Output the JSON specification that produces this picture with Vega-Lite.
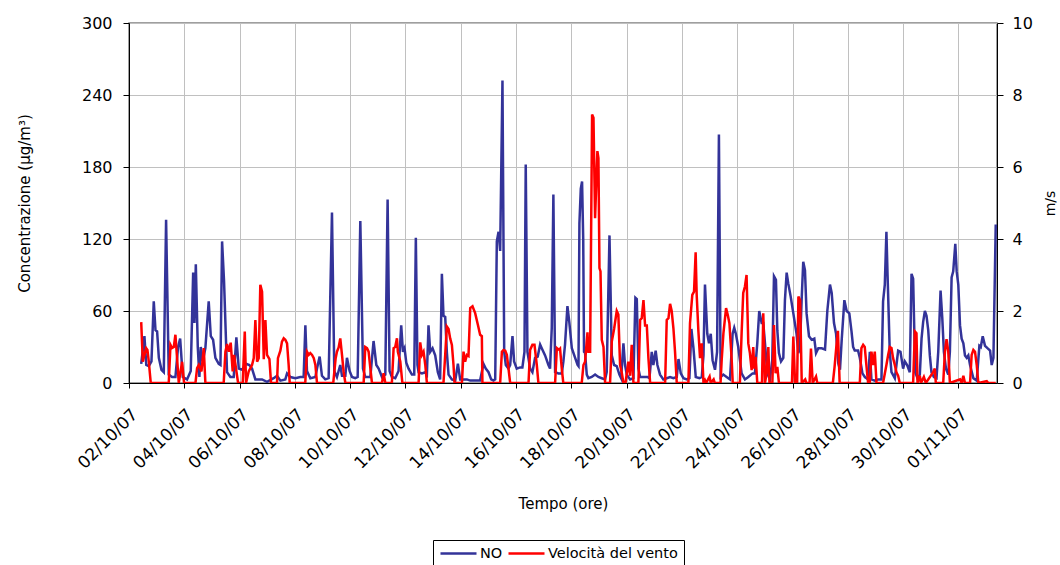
{
"$schema":"https://vega.github.io/schema/vega-lite/v6.json",
"width":868,"height":360,
"autosize":{"type":"none"},
"padding":{"left":129,"top":23,"right":63,"bottom":182},
"background":"white",
"config":{"font":"DejaVu Sans","view":{"stroke":"#808080","strokeWidth":1.5},
"axis":{"domainColor":"black","tickColor":"black","labelColor":"black","titleColor":"black","gridColor":"#c0c0c0","titleFontWeight":"normal","labelFont":"DejaVu Sans","titleFont":"DejaVu Sans"},
"axisX":{"labelFontSize":17},"axisY":{"labelFontSize":16},
"legend":{"labelFontSize":14.5,"labelFont":"DejaVu Sans"}},
"datasets":{
"no":[{"h":10.6,"v":16},{"h":13.4,"v":39},{"h":15,"v":15},{"h":17.2,"v":14},{"h":19.5,"v":18},{"h":21.5,"v":68},{"h":23,"v":44},{"h":24.4,"v":43},{"h":25.9,"v":21},{"h":28.2,"v":11},{"h":30.2,"v":9},{"h":32.2,"v":136},{"h":34.5,"v":7},{"h":37.4,"v":5},{"h":40.3,"v":5},{"h":42.6,"v":30},{"h":44.4,"v":37},{"h":46.7,"v":5},{"h":50.4,"v":3},{"h":53.6,"v":10},{"h":55.7,"v":92},{"h":56.8,"v":50},{"h":58,"v":99},{"h":59.7,"v":30},{"h":61.1,"v":5},{"h":62.3,"v":30},{"h":64,"v":18},{"h":66.3,"v":29},{"h":69.2,"v":68},{"h":71,"v":39},{"h":73,"v":36},{"h":75,"v":21},{"h":77.9,"v":16},{"h":79.4,"v":15},{"h":80.8,"v":118},{"h":82.5,"v":85},{"h":85.1,"v":9},{"h":88,"v":5},{"h":90.9,"v":5},{"h":93.2,"v":38},{"h":95.3,"v":12},{"h":98.2,"v":11},{"h":101.6,"v":16},{"h":104.5,"v":15},{"h":106.8,"v":12},{"h":109.7,"v":3},{"h":115.5,"v":3},{"h":119.8,"v":1},{"h":125.6,"v":4},{"h":128.5,"v":6},{"h":131.4,"v":2},{"h":135.7,"v":3},{"h":137.2,"v":8},{"h":140.1,"v":5},{"h":144.4,"v":4},{"h":148.7,"v":5},{"h":151.6,"v":5},{"h":153.1,"v":48},{"h":154.5,"v":10},{"h":157.4,"v":4},{"h":161.8,"v":5},{"h":163.2,"v":12},{"h":165.5,"v":22},{"h":167.5,"v":6},{"h":170.4,"v":3},{"h":173.3,"v":4},{"h":176.2,"v":142},{"h":178.2,"v":10},{"h":180.5,"v":5},{"h":183.4,"v":15},{"h":184.9,"v":6},{"h":187.8,"v":6},{"h":189.2,"v":21},{"h":191.5,"v":10},{"h":193.6,"v":5},{"h":196.4,"v":4},{"h":198.5,"v":5},{"h":200.8,"v":135},{"h":203.1,"v":12},{"h":205.1,"v":5},{"h":209.5,"v":5},{"h":212.3,"v":35},{"h":214.7,"v":15},{"h":216.7,"v":12},{"h":219.6,"v":5},{"h":222.5,"v":7},{"h":224.5,"v":153},{"h":226.2,"v":10},{"h":228.2,"v":5},{"h":231.1,"v":4},{"h":234,"v":10},{"h":236.3,"v":48},{"h":237.8,"v":26},{"h":239.2,"v":29},{"h":240.7,"v":17},{"h":242.7,"v":12},{"h":245.6,"v":7},{"h":247.6,"v":7},{"h":249,"v":121},{"h":250.4,"v":15},{"h":251.4,"v":9},{"h":254.3,"v":8},{"h":257.2,"v":9},{"h":258.6,"v":7},{"h":260,"v":48},{"h":261.5,"v":26},{"h":263.5,"v":29},{"h":265.8,"v":23},{"h":268.1,"v":9},{"h":270.1,"v":3},{"h":271.6,"v":91},{"h":273,"v":56},{"h":274.5,"v":55},{"h":275.9,"v":26},{"h":277.4,"v":7},{"h":280.3,"v":3},{"h":283.2,"v":2},{"h":285.5,"v":16},{"h":287.5,"v":3},{"h":290.4,"v":3},{"h":293.3,"v":3},{"h":296.2,"v":2},{"h":300.5,"v":2},{"h":304.8,"v":2},{"h":307.7,"v":16},{"h":309.7,"v":12},{"h":312.1,"v":9},{"h":314.4,"v":3},{"h":316.4,"v":2},{"h":317.9,"v":3},{"h":319.3,"v":118},{"h":320.8,"v":126},{"h":322.2,"v":110},{"h":324.2,"v":252},{"h":325.7,"v":26},{"h":327.1,"v":15},{"h":329.4,"v":12},{"h":330.9,"v":15},{"h":332.9,"v":39},{"h":334.3,"v":18},{"h":336.6,"v":12},{"h":339.5,"v":13},{"h":341.5,"v":13},{"h":343.3,"v":26},{"h":344.4,"v":182},{"h":345.9,"v":26},{"h":348.2,"v":12},{"h":350.2,"v":9},{"h":352.5,"v":21},{"h":354.8,"v":22},{"h":356.9,"v":32},{"h":358.3,"v":29},{"h":361.2,"v":23},{"h":364.1,"v":15},{"h":365.5,"v":12},{"h":367,"v":46},{"h":368.4,"v":157},{"h":369.9,"v":9},{"h":372.8,"v":8},{"h":375.7,"v":8},{"h":377.1,"v":18},{"h":378.5,"v":32},{"h":380.6,"v":64},{"h":382.2,"v":51},{"h":384.4,"v":29},{"h":387.3,"v":21},{"h":389.4,"v":15},{"h":390.2,"v":14},{"h":391,"v":133},{"h":392.2,"v":162},{"h":393.3,"v":168},{"h":394.3,"v":120},{"h":395,"v":26},{"h":395.9,"v":25},{"h":397.4,"v":7},{"h":398.8,"v":4},{"h":401.7,"v":5},{"h":404.6,"v":7},{"h":407.5,"v":5},{"h":410.4,"v":4},{"h":413.3,"v":3},{"h":414.7,"v":9},{"h":417.1,"v":123},{"h":419.1,"v":23},{"h":421.1,"v":15},{"h":423.4,"v":14},{"h":425.7,"v":7},{"h":427.2,"v":4},{"h":429.2,"v":33},{"h":430.6,"v":15},{"h":432.1,"v":7},{"h":435,"v":3},{"h":437.9,"v":4},{"h":439.6,"v":71},{"h":440.8,"v":70},{"h":442.2,"v":12},{"h":443.7,"v":5},{"h":446.6,"v":5},{"h":450,"v":5},{"h":451.8,"v":4},{"h":453.8,"v":26},{"h":455.2,"v":15},{"h":457.2,"v":27},{"h":458.7,"v":15},{"h":461,"v":7},{"h":463.9,"v":3},{"h":466.8,"v":4},{"h":469.7,"v":5},{"h":472.6,"v":4},{"h":475.5,"v":5},{"h":477,"v":20},{"h":479,"v":8},{"h":481.3,"v":4},{"h":484.2,"v":3},{"h":486.5,"v":4},{"h":488.2,"v":45},{"h":490,"v":29},{"h":492,"v":5},{"h":495.2,"v":4},{"h":497.2,"v":5},{"h":498.7,"v":23},{"h":500,"v":82},{"h":502,"v":41},{"h":503.5,"v":33},{"h":505,"v":41},{"h":506.6,"v":19},{"h":508.7,"v":11},{"h":510.5,"v":26},{"h":512.1,"v":207},{"h":513.6,"v":5},{"h":515.9,"v":7},{"h":518.8,"v":5},{"h":521.7,"v":3},{"h":524,"v":41},{"h":525.4,"v":46},{"h":526.8,"v":41},{"h":528.9,"v":30},{"h":531.8,"v":8},{"h":534.7,"v":3},{"h":537.6,"v":5},{"h":541.3,"v":8},{"h":543.3,"v":8},{"h":545.4,"v":33},{"h":547.1,"v":60},{"h":549.2,"v":50},{"h":550.6,"v":50},{"h":552.1,"v":33},{"h":554.1,"v":8},{"h":556.4,"v":3},{"h":558.4,"v":19},{"h":559.9,"v":89},{"h":561.6,"v":86},{"h":562.8,"v":44},{"h":564.2,"v":25},{"h":566,"v":18},{"h":568,"v":21},{"h":569.4,"v":69},{"h":570.9,"v":92},{"h":572.3,"v":83},{"h":574.4,"v":72},{"h":576.7,"v":58},{"h":579.5,"v":41},{"h":581,"v":25},{"h":582.4,"v":29},{"h":583.9,"v":69},{"h":585.3,"v":101},{"h":586.8,"v":94},{"h":588.2,"v":58},{"h":590.3,"v":39},{"h":592.6,"v":36},{"h":594.9,"v":37},{"h":596.4,"v":25},{"h":598.4,"v":29},{"h":601.3,"v":29},{"h":604.2,"v":28},{"h":606.2,"v":60},{"h":608.5,"v":82},{"h":610,"v":75},{"h":612,"v":50},{"h":613.8,"v":41},{"h":615.8,"v":16},{"h":617.2,"v":11},{"h":618.7,"v":36},{"h":621,"v":69},{"h":623,"v":60},{"h":625.3,"v":58},{"h":627.2,"v":43},{"h":628.6,"v":30},{"h":630,"v":27},{"h":632.9,"v":27},{"h":634.4,"v":21},{"h":636.7,"v":8},{"h":638.8,"v":5},{"h":641.6,"v":3},{"h":643.1,"v":26},{"h":644.5,"v":3},{"h":647.4,"v":2},{"h":650.3,"v":3},{"h":653.2,"v":3},{"h":654.6,"v":68},{"h":656.1,"v":82},{"h":657.5,"v":126},{"h":658.5,"v":90},{"h":660.4,"v":26},{"h":661.9,"v":9},{"h":664.8,"v":4},{"h":666.2,"v":15},{"h":667.7,"v":27},{"h":669.7,"v":26},{"h":672,"v":12},{"h":673.5,"v":18},{"h":675.5,"v":15},{"h":677.8,"v":9},{"h":679.3,"v":91},{"h":680.7,"v":87},{"h":682.5,"v":9},{"h":684.5,"v":4},{"h":686.5,"v":7},{"h":688,"v":37},{"h":689.4,"v":51},{"h":690.9,"v":60},{"h":692.3,"v":56},{"h":693.8,"v":44},{"h":695.2,"v":23},{"h":696.6,"v":9},{"h":698.7,"v":5},{"h":701,"v":4},{"h":702.5,"v":26},{"h":704.5,"v":77},{"h":706,"v":54},{"h":707.4,"v":26},{"h":709.2,"v":12},{"h":711.2,"v":7},{"h":712.6,"v":26},{"h":714.1,"v":88},{"h":715.5,"v":93},{"h":717.3,"v":116},{"h":718.5,"v":93},{"h":719.9,"v":82},{"h":721.4,"v":48},{"h":722.8,"v":37},{"h":724.3,"v":33},{"h":725.7,"v":23},{"h":727.2,"v":21},{"h":728.6,"v":23},{"h":730.1,"v":15},{"h":733,"v":4},{"h":735.9,"v":2},{"h":738.2,"v":31},{"h":739.4,"v":30},{"h":741.1,"v":39},{"h":743.1,"v":31},{"h":745.2,"v":29},{"h":747.5,"v":27},{"h":748.9,"v":15},{"h":750.4,"v":21},{"h":752.4,"v":132}],
"wind":[{"h":10.6,"v":1.69},{"h":12,"v":0.59},{"h":13.4,"v":0.78},{"h":14.9,"v":0.97},{"h":16,"v":0.92},{"h":17.2,"v":0.59},{"h":18.9,"v":0},{"h":34.5,"v":0},{"h":36,"v":1.06},{"h":37.4,"v":0.97},{"h":38.9,"v":1.0},{"h":40.3,"v":1.34},{"h":41.8,"v":0.66},{"h":43.2,"v":0},{"h":46.1,"v":0.59},{"h":47.8,"v":0},{"h":57.7,"v":0},{"h":59.1,"v":0.41},{"h":60.6,"v":0.5},{"h":62.9,"v":0.32},{"h":64.9,"v":0.97},{"h":66.3,"v":0},{"h":82.2,"v":0},{"h":83.7,"v":0.87},{"h":85.1,"v":1.08},{"h":86.6,"v":0.87},{"h":88.3,"v":1.12},{"h":90,"v":0.32},{"h":91.2,"v":0.78},{"h":94.7,"v":0},{"h":98.7,"v":0},{"h":100.5,"v":1.43},{"h":101.6,"v":0},{"h":103.9,"v":0.32},{"h":106.8,"v":0.5},{"h":108.3,"v":0.69},{"h":109.7,"v":1.75},{"h":111.2,"v":0.59},{"h":112.6,"v":0.69},{"h":114,"v":2.73},{"h":115.5,"v":2.54},{"h":117,"v":0.66},{"h":118.4,"v":1.75},{"h":119.8,"v":0.78},{"h":121.9,"v":0.66},{"h":123.3,"v":0},{"h":128.5,"v":0},{"h":129.3,"v":0.69},{"h":131.4,"v":0.9},{"h":132.8,"v":1.15},{"h":134.3,"v":1.24},{"h":135.7,"v":1.2},{"h":137.2,"v":1.1},{"h":138.6,"v":0.5},{"h":139.5,"v":0},{"h":153,"v":0},{"h":154.5,"v":0.87},{"h":156,"v":0.78},{"h":157.4,"v":0.83},{"h":158.9,"v":0.78},{"h":160.4,"v":0.69},{"h":161.8,"v":0.5},{"h":163.2,"v":0},{"h":177.3,"v":0},{"h":179.4,"v":0.69},{"h":180.5,"v":0.87},{"h":182,"v":0.99},{"h":183.4,"v":1.24},{"h":184.9,"v":0.78},{"h":186.3,"v":0.32},{"h":187.8,"v":0},{"h":203.7,"v":0},{"h":205.1,"v":1.0},{"h":206.6,"v":0.97},{"h":208,"v":0.87},{"h":209.5,"v":0.41},{"h":210.9,"v":0},{"h":219.6,"v":0},{"h":221,"v":0.27},{"h":222.5,"v":0},{"h":228.2,"v":0},{"h":229.7,"v":0.97},{"h":231.1,"v":1.0},{"h":232.6,"v":1.24},{"h":233.4,"v":0.87},{"h":235.5,"v":0.6},{"h":237.3,"v":0},{"h":251.4,"v":0},{"h":252.8,"v":1.13},{"h":254.3,"v":0.78},{"h":255.7,"v":0.87},{"h":257.2,"v":0.5},{"h":258.6,"v":0},{"h":273,"v":0},{"h":274.5,"v":0.78},{"h":275.9,"v":1.57},{"h":277.4,"v":1.5},{"h":278.8,"v":1.24},{"h":280.3,"v":1.06},{"h":281.7,"v":0.5},{"h":282.6,"v":0},{"h":289,"v":0},{"h":290.4,"v":0.87},{"h":291.8,"v":0.59},{"h":293.3,"v":0.78},{"h":294.7,"v":0.75},{"h":296.2,"v":2.08},{"h":298.2,"v":2.13},{"h":300.5,"v":1.94},{"h":302.9,"v":1.61},{"h":304.8,"v":1.34},{"h":306.3,"v":1.3},{"h":306.8,"v":0},{"h":322.2,"v":0},{"h":323.7,"v":0.87},{"h":325.1,"v":0.92},{"h":326.6,"v":0.9},{"h":328,"v":0.78},{"h":329.4,"v":0.41},{"h":330.9,"v":0},{"h":346.8,"v":0},{"h":348.2,"v":0.92},{"h":350.2,"v":1.06},{"h":352,"v":1.06},{"h":354,"v":0.5},{"h":355.4,"v":0},{"h":369.9,"v":0},{"h":371.4,"v":0.97},{"h":373.4,"v":0.92},{"h":374.2,"v":0.95},{"h":375.7,"v":0.4},{"h":377,"v":0},{"h":393,"v":0},{"h":394.5,"v":0.5},{"h":395.9,"v":0.59},{"h":398,"v":1.41},{"h":398.8,"v":0.87},{"h":400.3,"v":0.87},{"h":402,"v":7.46},{"h":403.2,"v":7.37},{"h":404.6,"v":4.58},{"h":406.6,"v":6.44},{"h":407.5,"v":6.25},{"h":408.4,"v":3.19},{"h":409.3,"v":3.1},{"h":410.4,"v":1.2},{"h":411.9,"v":1.0},{"h":413.3,"v":0},{"h":417.6,"v":0},{"h":419.1,"v":1.15},{"h":421.1,"v":1.5},{"h":423.4,"v":2.0},{"h":424.8,"v":1.9},{"h":426.3,"v":0.5},{"h":427.7,"v":0.3},{"h":429.2,"v":0},{"h":431,"v":0},{"h":433.5,"v":0.59},{"h":435,"v":0.2},{"h":436.4,"v":1.06},{"h":437.9,"v":0},{"h":442.2,"v":0},{"h":443.7,"v":1.75},{"h":445.1,"v":1.8},{"h":446.6,"v":2.3},{"h":448,"v":1.6},{"h":449.5,"v":1.6},{"h":450.9,"v":0.69},{"h":452.4,"v":0},{"h":465.4,"v":0},{"h":466.8,"v":1.75},{"h":468.3,"v":1.8},{"h":469.7,"v":2.2},{"h":471.1,"v":2.0},{"h":472.6,"v":1.52},{"h":474,"v":0.87},{"h":475.5,"v":0},{"h":485.6,"v":0},{"h":487,"v":1.66},{"h":489,"v":2.45},{"h":490.5,"v":2.54},{"h":491.9,"v":3.63},{"h":492.8,"v":2.45},{"h":494.3,"v":1.43},{"h":495.7,"v":0.69},{"h":497.2,"v":1.1},{"h":498.7,"v":0},{"h":500,"v":0.08},{"h":501,"v":0},{"h":504,"v":0.18},{"h":505,"v":0},{"h":507.5,"v":0.1},{"h":508.5,"v":0},{"h":513.5,"v":0},{"h":514.5,"v":0.64},{"h":516,"v":1.38},{"h":518.3,"v":2.08},{"h":519.7,"v":1.9},{"h":521.2,"v":1.66},{"h":523.2,"v":0.64},{"h":524.1,"v":0},{"h":530.3,"v":0},{"h":531.8,"v":1.38},{"h":533.2,"v":2.5},{"h":534.7,"v":2.68},{"h":536.1,"v":3.0},{"h":537.6,"v":1.1},{"h":539,"v":0.83},{"h":540.5,"v":0.36},{"h":541.9,"v":1.0},{"h":542.8,"v":0.4},{"h":544,"v":0.73},{"h":545.4,"v":0},{"h":549.5,"v":0},{"h":550.6,"v":1.94},{"h":552.1,"v":0},{"h":553.5,"v":0.27},{"h":555,"v":1.0},{"h":556,"v":0},{"h":558.5,"v":0},{"h":559.9,"v":1.61},{"h":561.3,"v":0.27},{"h":562.8,"v":0.45},{"h":564.2,"v":0},{"h":575.5,"v":0},{"h":576.7,"v":1.29},{"h":578.2,"v":0},{"h":580,"v":0},{"h":581.1,"v":2.4},{"h":582.6,"v":2.3},{"h":584,"v":0},{"h":587,"v":0.1},{"h":588,"v":0},{"h":590.8,"v":0},{"h":592,"v":0.96},{"h":593.5,"v":0},{"h":596.4,"v":0.18},{"h":597.5,"v":0},{"h":611,"v":0},{"h":612.5,"v":0.45},{"h":614,"v":1.0},{"h":615.4,"v":1.45},{"h":616.9,"v":0},{"h":634.4,"v":0},{"h":635.8,"v":0.97},{"h":637.3,"v":1.06},{"h":638.7,"v":1.0},{"h":640.1,"v":0.5},{"h":641.6,"v":0},{"h":643.1,"v":0},{"h":644.5,"v":0.87},{"h":646,"v":0.5},{"h":647.4,"v":0.87},{"h":648.9,"v":0},{"h":654.6,"v":0},{"h":657.5,"v":0.5},{"h":659,"v":0.78},{"h":660.4,"v":1.0},{"h":661.9,"v":0.97},{"h":663.3,"v":0.69},{"h":664.8,"v":0.5},{"h":666.2,"v":0.3},{"h":667.7,"v":0.2},{"h":669.1,"v":0},{"h":680.7,"v":0},{"h":682.2,"v":1.43},{"h":683.6,"v":1.38},{"h":684.5,"v":0},{"h":686.5,"v":0.2},{"h":687.5,"v":0},{"h":690,"v":0.17},{"h":691.7,"v":0},{"h":698.1,"v":0.3},{"h":699.5,"v":0.4},{"h":700.4,"v":0},{"h":706.8,"v":0},{"h":708.3,"v":0.87},{"h":709.7,"v":1.22},{"h":711.2,"v":0.87},{"h":712.6,"v":0},{"h":721.4,"v":0.1},{"h":722.8,"v":0},{"h":724.3,"v":0.2},{"h":725.7,"v":0},{"h":730.1,"v":0},{"h":731.5,"v":0.78},{"h":733,"v":0.92},{"h":734.4,"v":0.87},{"h":735.9,"v":0.5},{"h":737.3,"v":0},{"h":744.6,"v":0.05},{"h":746,"v":0},{"h":752.4,"v":0}]
},
"layer":[
{"data":{"name":"no"},
 "mark":{"type":"line","strokeWidth":2.5,"clip":true},
 "encoding":{
  "x":{"field":"h","type":"quantitative","scale":{"domain":[0,753.5],"nice":false,"zero":false},
   "axis":{"title":"Tempo (ore)","values":[0,48,96,144,192,240,288,336,384,432,480,528,576,624,672,720],
    "labelExpr":"timeFormat(datetime(2007, 9, 2, datum.value), '%d/%m/%y')",
    "labelAngle":-45,"labelAlign":"right","labelBaseline":"top","labelFontSize":17,"labelPadding":18,"labelDx":-16,"labelDy":-10,
    "labelOverlap":false,"labelFlush":false,"labelBound":false,
    "tickSize":5,"grid":true,"gridColor":"#c0c0c0",
    "titleFontSize":15,"titleY":120,"titleBaseline":"middle"}},
  "y":{"field":"v","type":"quantitative","scale":{"domain":[0,300],"nice":false},
   "axis":{"orient":"left","title":"Concentrazione (µg/m³)","values":[0,60,120,180,240,300],"labelFontSize":16,"tickSize":6,"labelPadding":11,"grid":true,
    "titleFontSize":15,"titleX":-105,"titleY":180,"titleAngle":270,"titleAlign":"center","titleBaseline":"middle"}},
  "color":{"datum":"NO","type":"nominal","scale":{"domain":["NO","Velocità del vento"],"range":["#333399","#ff0000"]},
   "legend":{"title":null,"orient":"none","legendX":304,"legendY":517,"direction":"horizontal","symbolType":"M-3,0H3","symbolSize":144,"symbolOffset":12,"symbolStrokeWidth":2.5,
    "labelFontSize":14.5,"labelOffset":14,"columnPadding":0,"padding":6,"strokeColor":"black","fillColor":"white","cornerRadius":0}}
 }},
{"data":{"name":"wind"},
 "mark":{"type":"line","strokeWidth":2.5,"clip":true},
 "encoding":{
  "x":{"field":"h","type":"quantitative"},
  "y":{"field":"v","type":"quantitative","scale":{"domain":[0,10],"nice":false},
   "axis":{"orient":"right","title":"m/s","values":[0,2,4,6,8,10],"labelFontSize":16,"tickSize":6,"labelPadding":9,"grid":false,
    "titleFontSize":14,"titleX":53,"titleY":180,"titleAngle":270,"titleAlign":"center","titleBaseline":"middle"}},
  "color":{"datum":"Velocità del vento","type":"nominal"}
 }}
],
"resolve":{"scale":{"y":"independent"}}
}
